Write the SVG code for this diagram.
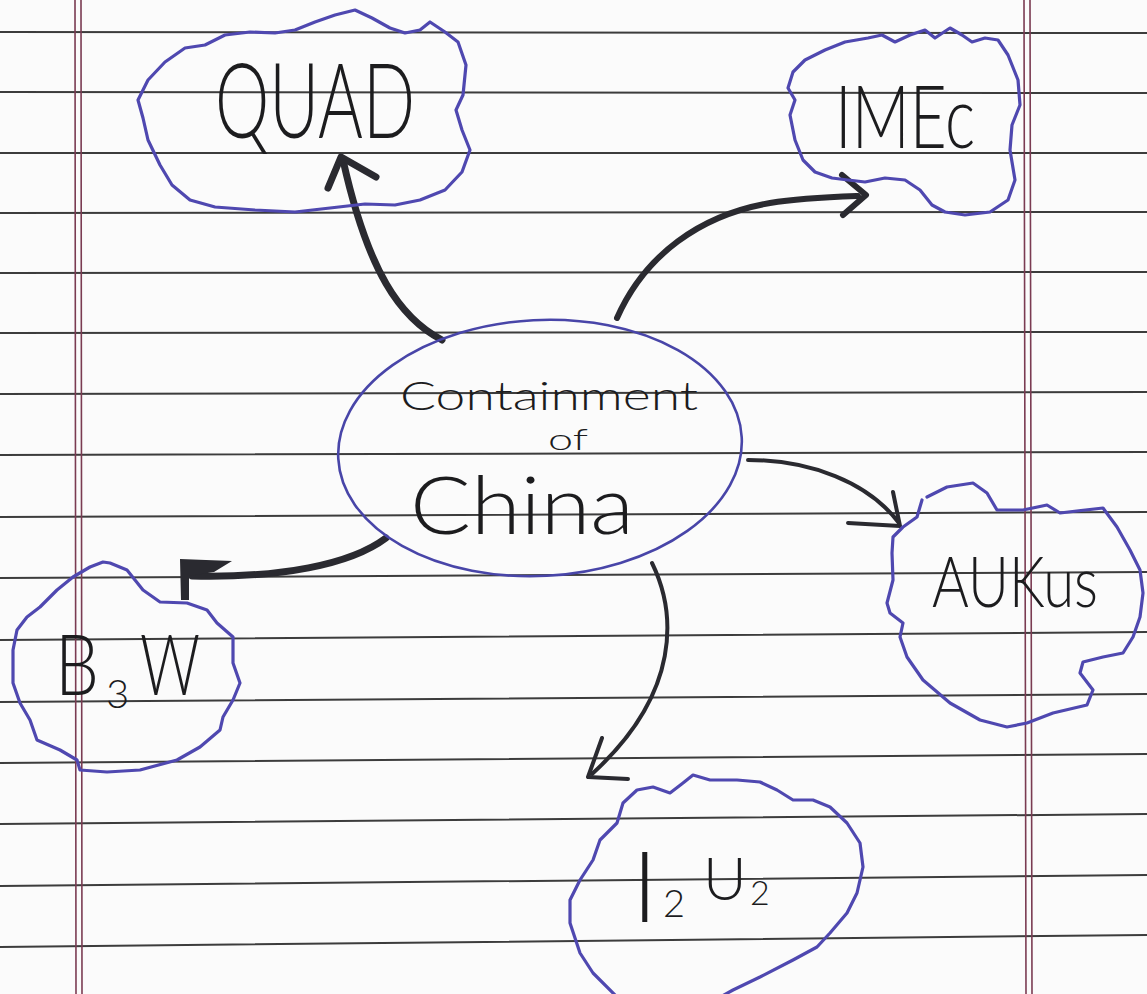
<svg xmlns="http://www.w3.org/2000/svg" width="1147" height="994" viewBox="0 0 1147 994">
<style>
.rule{stroke:#3c3c3c;stroke-width:2;fill:none}
.margin{stroke:#7a3b52;stroke-width:1.6;fill:none}
.cloud{fill:none;stroke:#4f48b0;stroke-width:3.2;stroke-linejoin:round;stroke-linecap:round}
.lbl{font-family:Lato,"Liberation Sans",sans-serif;font-weight:300;fill:#1c1c1e}
.arr{fill:none;stroke:#2a2a30;stroke-linecap:round;stroke-linejoin:round}
</style>
<rect width="1147" height="994" fill="#fbfbfb"/>
<g id="paper">
<path class="rule" d="M0,32 L1147,33 M0,92 L1147,93 M0,153 L1147,153 M0,213 L1147,212 M0,273 L1147,272 M0,333 L1147,332 M0,394 L1147,392 M0,455 L1147,452 M0,517 L1147,512 M0,578 L1147,572 M0,640 L1147,632 M0,702 L1147,694 M0,763 L1147,754 M0,824 L1147,814 M0,886 L1147,875 M0,947 L1147,935"/>
<path class="margin" d="M75,0 L76,994 M81,0 L82,994 M1024,0 L1026,994 M1030,0 L1032,994"/>
</g>
<g id="connectors">
<path class="arr" stroke-width="7" d="M442,340 C400,318 368,272 343,160"/>
<path class="arr" stroke-width="7" d="M328,188 L341,157 L376,177"/>
<path class="arr" stroke-width="6" d="M617,318 C645,255 700,215 770,203 C800,198 830,197 858,196"/>
<path class="arr" stroke-width="6" d="M842,175 L866,195 L843,215"/>
<path class="arr" stroke-width="4" d="M748,460 C810,460 868,482 899,523"/>
<path class="arr" stroke-width="4" d="M848,523 L900,526 L893,492"/>
<path class="arr" stroke-width="7" d="M386,538 C350,565 280,578 192,576"/>
<path d="M181,600 L180,559 L232,561 L214,572 L189,576 L189,600 Z" fill="#2a2a30"/>
<path class="arr" stroke-width="4" d="M652,563 C676,612 682,692 592,774"/>
<path class="arr" stroke-width="4" d="M602,738 L588,777 L628,779"/>
</g>
<g id="node-center">
<ellipse cx="540" cy="448" rx="202" ry="128" transform="rotate(-3 540 448)" fill="none" stroke="#4845a8" stroke-width="2.6"/>
<text class="lbl" x="400" y="410" font-size="40" textLength="298" lengthAdjust="spacingAndGlyphs">Containment</text>
<text class="lbl" x="548" y="450" font-size="30" textLength="40" lengthAdjust="spacingAndGlyphs">of</text>
<text class="lbl" x="410" y="534" font-size="80" textLength="224" lengthAdjust="spacingAndGlyphs">China</text>
</g>
<g id="node-quad">
<path class="cloud" d="M355,10 L372,18 L390,28 L405,33 L420,30 L430,22 L445,32 L458,42 L466,65 L463,95 L456,110 L462,130 L470,150 L462,172 L445,190 L420,200 L395,205 L365,204 L330,208 L295,212 L255,210 L215,207 L190,200 L172,185 L160,165 L148,140 L143,118 L138,100 L148,80 L165,62 L185,48 L205,45 L225,35 L250,32 L275,33 L295,30 L315,22 L335,15 Z"/>
<text class="lbl" x="215" y="138" font-size="104" textLength="200" lengthAdjust="spacingAndGlyphs">QUAD</text>
</g>
<g id="node-imec">
<path class="cloud" d="M950,28 L962,35 L972,42 L985,38 L998,40 L1008,55 L1018,80 L1020,105 L1012,125 L1010,150 L1015,180 L1008,200 L990,212 L965,215 L945,212 L932,205 L920,190 L905,180 L885,178 L865,182 L848,180 L832,178 L815,172 L803,160 L795,140 L790,115 L795,100 L788,88 L793,72 L805,60 L825,50 L845,42 L868,38 L882,35 L895,42 L910,35 L925,30 L935,38 Z"/>
<text class="lbl" x="835" y="148" font-size="86" textLength="140" lengthAdjust="spacingAndGlyphs">IMEc</text>
</g>
<g id="node-aukus">
<path class="cloud" d="M927,497 L947,487 L973,483 L987,493 L997,510 L1023,510 L1047,505 L1060,513 L1103,508 L1117,527 L1130,550 L1140,570 L1143,593 L1140,617 L1133,637 L1123,653 L1103,657 L1083,662 L1080,673 L1093,690 L1087,705 L1053,713 L1027,723 L1007,727 L980,720 L950,703 L923,680 L907,657 L900,637 L903,623 L890,613 L887,603 L893,580 L892,553 L893,537 L903,527 L917,517 L922,500"/>
<text class="lbl" x="932" y="607" font-size="70" textLength="166" lengthAdjust="spacingAndGlyphs">AUKus</text>
</g>
<g id="node-b3w">
<path class="cloud" d="M110,563 L127,570 L143,590 L160,602 L187,603 L207,610 L217,623 L233,637 L233,663 L240,683 L233,700 L223,717 L220,730 L200,747 L177,760 L140,770 L107,772 L80,770 L77,760 L60,750 L37,740 L30,720 L20,703 L13,683 L13,650 L17,630 L27,617 L40,607 L57,590 L73,577 L90,567 L103,562 Z"/>
<text class="lbl" font-size="84"><tspan x="55" y="695" textLength="44" lengthAdjust="spacingAndGlyphs">B</tspan><tspan x="106" y="708" font-size="40">3</tspan><tspan x="140" y="695" textLength="60" lengthAdjust="spacingAndGlyphs">W</tspan></text>
</g>
<g id="node-i2u2">
<path class="cloud" d="M683,783 L693,775 L710,780 L737,780 L760,782 L777,790 L793,800 L813,800 L830,807 L847,823 L860,843 L863,867 L857,893 L847,913 L830,933 L817,947 L793,960 L760,977 L733,990 L715,1000 M620,1000 L593,973 L580,953 L570,923 L570,900 L580,880 L593,860 L600,840 L617,823 L623,803 L637,790 L653,787 L670,793 L683,783"/>
<text class="lbl" font-size="98"><tspan x="632" y="922">I</tspan><tspan x="663" y="917" font-size="38">2</tspan><tspan x="703" y="900" font-size="60">U</tspan><tspan x="750" y="905" font-size="34">2</tspan></text>
</g>
</svg>
